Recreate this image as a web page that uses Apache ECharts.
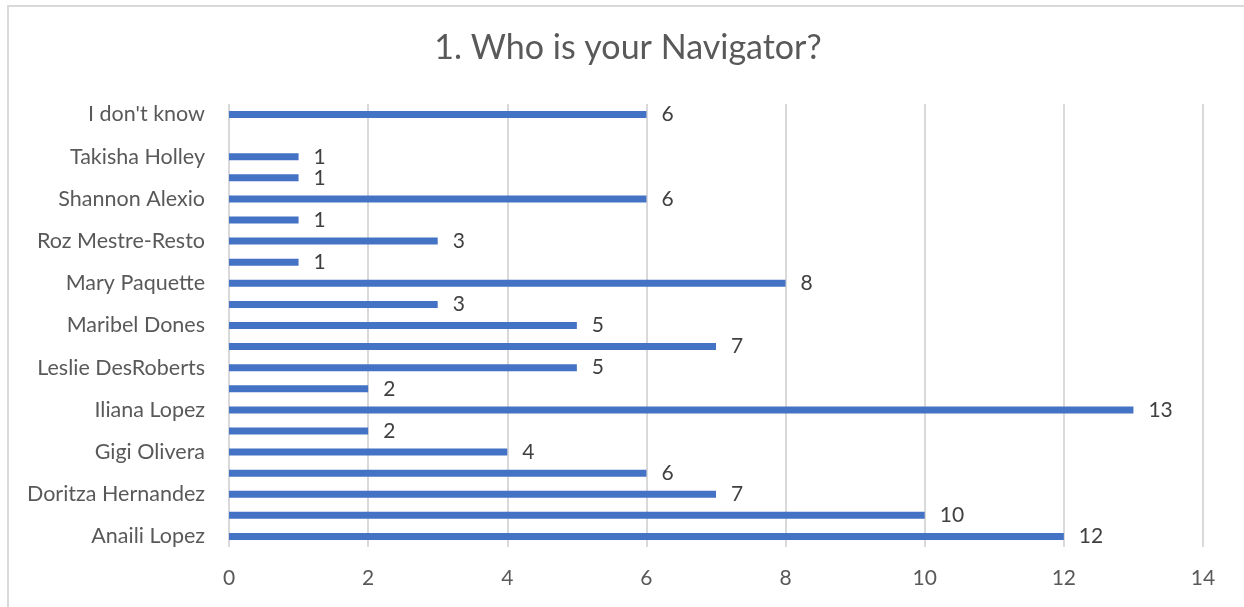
<!DOCTYPE html>
<html>
<head>
<meta charset="utf-8">
<script src="https://cdn.jsdelivr.net/npm/echarts@6/dist/echarts.min.js"></script>
<style>
html,body{margin:0;padding:0;background:#fff;}
#frame{position:absolute;left:7px;top:5px;width:1237px;height:602px;border-top:2px solid #d9d9d9;border-left:2px solid #d9d9d9;box-sizing:border-box;}
#chart{position:absolute;left:0;top:0;width:1244px;height:607px;}
</style>
</head>
<body>
<div id="frame"></div>
<div id="chart"></div>
<script>
// Categories bottom-to-top (unlabelled rows are hidden by the axis label interval)
const categories = [
  "Anaili Lopez", "(row 2)", "Doritza Hernandez", "(row 4)", "Gigi Olivera", "(row 6)",
  "Iliana Lopez", "(row 8)", "Leslie DesRoberts", "(row 10)", "Maribel Dones", "(row 12)",
  "Mary Paquette", "(row 14)", "Roz Mestre-Resto", "(row 16)", "Shannon Alexio", "(row 18)",
  "Takisha Holley", "(row 20)", "I don't know"
];
const counts = [12, 10, 7, 6, 4, 2, 13, 2, 5, 7, 5, 3, 8, 1, 3, 1, 6, 1, 1, null, 6];
const xTicks = [0, 14, 2];
const titleText = "1. Who is your Navigator?";

const font = "Lato, 'Open Sans', sans-serif";
const chart = echarts.init(document.getElementById('chart'), null, {renderer: 'canvas'});
chart.setOption({
  animation: false,
  title: {
    text: titleText,
    left: 623,
    textAlign: 'center',
    top: 26,
    textStyle: {fontFamily: font, fontSize: 34, fontWeight: 'normal', color: '#595959'}
  },
  grid: {left: 229, right: 41, top: 104, bottom: 60, containLabel: false},
  xAxis: {
    type: 'value',
    min: xTicks[0], max: xTicks[1], interval: xTicks[2],
    axisLine: {show: false},
    axisTick: {show: false},
    splitLine: {show: true, lineStyle: {color: '#d9d9d9', width: 2}},
    axisLabel: {fontFamily: font, fontSize: 21, color: '#595959', margin: 21}
  },
  yAxis: {
    type: 'category',
    data: categories,
    axisLine: {show: false},
    axisTick: {show: false},
    axisLabel: {interval: 1, fontFamily: font, fontSize: 21.5, color: '#595959', margin: 24}
  },
  series: [{
    type: 'bar',
    data: counts,
    barWidth: 7,
    itemStyle: {color: '#4472C4'},
    label: {
      show: true, position: 'right', distance: 15,
      fontFamily: font, fontSize: 21, color: '#404040'
    }
  }]
});
</script>
</body>
</html>
